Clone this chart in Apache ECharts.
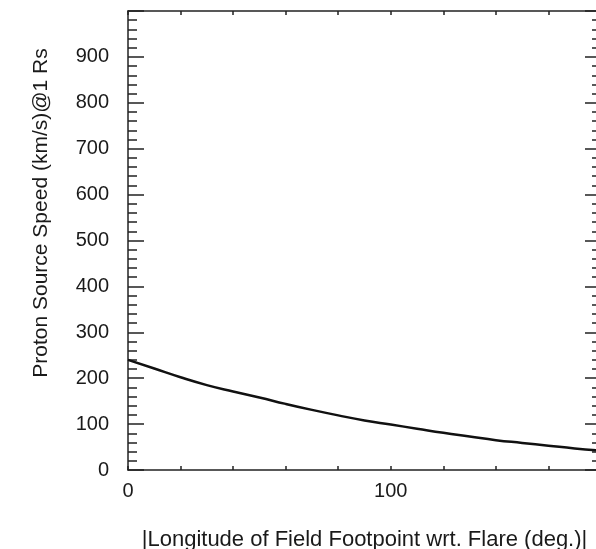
<!DOCTYPE html>
<html>
<head>
<meta charset="utf-8">
<script src="https://cdn.jsdelivr.net/npm/echarts@6/dist/echarts.min.js"></script>
<style>
  html, body { margin: 0; padding: 0; background: #fff; }
</style>
</head>
<body>
<div id="main" style="width: 596px;height: 549px;"></div>
<script>
// longitude of field footpoint (deg) and proton source speed (km/s)
const longitude = [0, 10, 20, 30, 40, 50, 60, 70, 80, 90, 100, 110, 120, 130, 140, 150, 160, 170, 180]
const speed = [240, 221, 202, 185, 171, 158, 144, 131, 119, 108, 99, 90, 81, 73, 65, 59, 53, 47, 42]
const xLabels = [0, 100]
const yLabels = [0, 100, 200, 300, 400, 500, 600, 700, 800, 900]

const font = "'Liberation Sans', Arial, sans-serif"
const ink = '#1a1a1a'

const chart = echarts.init(document.getElementById('main'))

// same frame settings for both x axes (bottom has labels, top does not)
function xAxisFor (pos, withLabels) {
  return {
    type: 'value',
    position: pos,
    min: 0,
    max: 180,
    interval: 20,
    axisLine: { show: true, onZero: false, lineStyle: { color: '#222', width: 1.5 } },
    axisTick: { show: true, inside: true, length: 4, lineStyle: { color: '#222', width: 1.5 } },
    axisLabel: {
      show: withLabels,
      margin: 11,
      color: ink,
      fontFamily: font,
      fontSize: 20,
      formatter: function (v) { return xLabels.indexOf(v) >= 0 ? String(v) : '' }
    },
    splitLine: { show: false }
  }
}

function yAxisFor (pos, withLabels) {
  return {
    type: 'value',
    position: pos,
    min: 0,
    max: 1000,
    interval: 100,
    axisLine: { show: true, onZero: false, lineStyle: { color: '#222', width: 1.5 } },
    axisTick: { show: true, inside: true, length: 16, lineStyle: { color: '#222', width: 1.5 } },
    minorTick: { show: true, splitNumber: 5, length: 9, lineStyle: { color: '#222', width: 1.5 } },
    axisLabel: {
      show: withLabels,
      margin: 19,
      color: ink,
      fontFamily: font,
      fontSize: 20,
      formatter: function (v) { return yLabels.indexOf(v) >= 0 ? String(v) : '' }
    },
    splitLine: { show: false },
    minorSplitLine: { show: false }
  }
}

const option = {
  animation: false,
  grid: {
    left: 128,
    right: -5,
    top: 11,
    bottom: 79,
    outerBoundsMode: 'none',
    containLabel: false
  },
  xAxis: [
    Object.assign(xAxisFor('bottom', true), {
      name: '|Longitude of Field Footpoint wrt. Flare (deg.)|',
      nameLocation: 'middle',
      nameGap: 59,
      nameTextStyle: { color: ink, fontFamily: font, fontSize: 22 }
    }),
    xAxisFor('top', false)
  ],
  yAxis: [
    yAxisFor('left', true),
    yAxisFor('right', false)
  ],
  graphic: [
    {
      type: 'text',
      x: 41,
      y: 213,
      rotation: Math.PI / 2,
      style: {
        text: 'Proton Source Speed (km/s)@1 Rs',
        fill: ink,
        font: '21px ' + font,
        textAlign: 'center',
        textVerticalAlign: 'middle'
      }
    }
  ],
  series: [
    {
      type: 'line',
      smooth: true,
      showSymbol: false,
      data: longitude.map((v, i) => [v, speed[i]]),
      lineStyle: { color: '#111', width: 2.5 }
    }
  ]
}

chart.setOption(option)
</script>
</body>
</html>
